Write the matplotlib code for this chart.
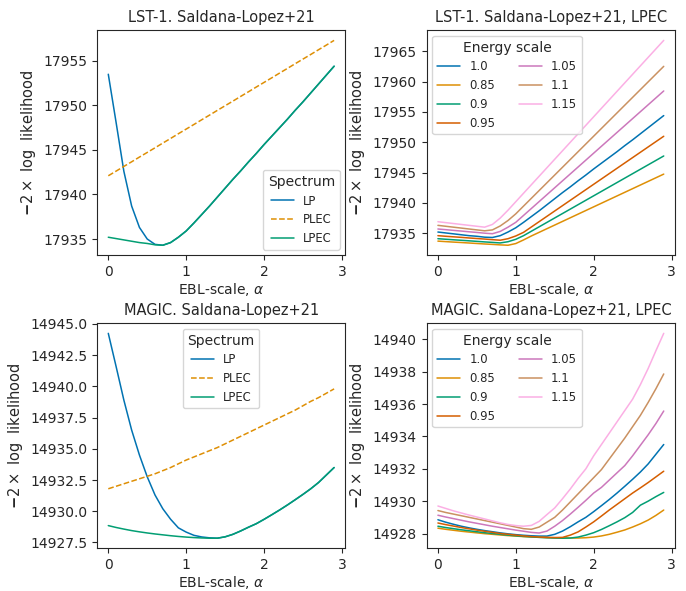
import matplotlib
matplotlib.use('Agg')
import matplotlib.pyplot as plt
import seaborn as sns
import numpy as np

sns.set_style('ticks')
sns.set_palette('colorblind')
plt.rcParams['font.family'] = ['DejaVu Sans']

# EBL scale grid
alpha = [round(0.1 * i, 1) for i in range(30)]

# LST-1, Saldana-Lopez+21, different spectral models
lst_lp = [17953.5, 17948.1, 17942.6, 17938.7, 17936.3, 17935.0, 17934.4, 17934.3, 17934.6, 17935.2,
          17935.9, 17936.8, 17937.75, 17938.7, 17939.7, 17940.7, 17941.7, 17942.65, 17943.65, 17944.6,
          17945.6, 17946.55, 17947.5, 17948.45, 17949.45, 17950.4, 17951.4, 17952.4, 17953.4, 17954.4]
lst_plec = [17942.1, 17942.62, 17943.15, 17943.67, 17944.2, 17944.72, 17945.24, 17945.77, 17946.29, 17946.82,
            17947.34, 17947.86, 17948.39, 17948.91, 17949.44, 17949.96, 17950.48, 17951.01, 17951.53, 17952.06,
            17952.58, 17953.1, 17953.63, 17954.15, 17954.68, 17955.2, 17955.72, 17956.25, 17956.77, 17957.3]
lst_lpec = [17935.2, 17935.05, 17934.9, 17934.75, 17934.6, 17934.5, 17934.35, 17934.3, 17934.6, 17935.2,
            17935.9, 17936.8, 17937.75, 17938.7, 17939.7, 17940.7, 17941.7, 17942.65, 17943.65, 17944.6,
            17945.6, 17946.55, 17947.5, 17948.45, 17949.45, 17950.4, 17951.4, 17952.4, 17953.4, 17954.4]

# MAGIC, Saldana-Lopez+21, different spectral models
magic_lp = [14944.25, 14941.6, 14938.9, 14936.5, 14934.5, 14932.76, 14931.3, 14930.2, 14929.36, 14928.67,
            14928.33, 14928.07, 14927.94, 14927.87, 14927.84, 14927.95, 14928.15, 14928.42, 14928.72, 14929.0,
            14929.35, 14929.72, 14930.1, 14930.5, 14930.92, 14931.35, 14931.8, 14932.3, 14932.9, 14933.5]
magic_plec = [14931.8, 14932.0, 14932.2, 14932.4, 14932.6, 14932.8, 14933.0, 14933.25, 14933.5, 14933.8,
              14934.1, 14934.35, 14934.6, 14934.85, 14935.1, 14935.4, 14935.7, 14936.0, 14936.3, 14936.6,
              14936.9, 14937.2, 14937.5, 14937.8, 14938.1, 14938.45, 14938.8, 14939.1, 14939.45, 14939.8]
magic_lpec = [14928.85, 14928.7, 14928.57, 14928.45, 14928.35, 14928.26, 14928.18, 14928.11, 14928.04, 14927.98,
              14927.93, 14927.89, 14927.86, 14927.84, 14927.84, 14927.95, 14928.15, 14928.42, 14928.72, 14929.0,
              14929.35, 14929.72, 14930.1, 14930.5, 14930.92, 14931.35, 14931.8, 14932.3, 14932.9, 14933.5]

# energy scale factors (legend order)
escale = ['1.0', '0.85', '0.9', '0.95', '1.05', '1.1', '1.15']

# LST-1 LPEC for each energy scale
lst_es = {
    '1.0': lst_lpec,
    '0.85': [17933.7, 17933.62, 17933.54, 17933.47, 17933.39, 17933.31, 17933.23, 17933.16, 17933.08, 17933.02,
             17933.3, 17933.9, 17934.55, 17935.15, 17935.75, 17936.35, 17936.95, 17937.55, 17938.15, 17938.75,
             17939.35, 17939.95, 17940.55, 17941.15, 17941.75, 17942.35, 17942.95, 17943.55, 17944.15, 17944.75],
    '0.9': [17934.1, 17934.01, 17933.92, 17933.84, 17933.75, 17933.66, 17933.57, 17933.49, 17933.4, 17933.6,
            17934.0, 17934.6, 17935.33, 17936.06, 17936.79, 17937.52, 17938.25, 17938.98, 17939.71, 17940.44,
            17941.17, 17941.9, 17942.63, 17943.36, 17944.09, 17944.82, 17945.55, 17946.28, 17947.01, 17947.74],
    '0.95': [17934.6, 17934.5, 17934.41, 17934.32, 17934.22, 17934.13, 17934.04, 17933.94, 17933.85, 17934.1,
             17934.55, 17935.15, 17936.03, 17936.91, 17937.79, 17938.67, 17939.55, 17940.43, 17941.31, 17942.19,
             17943.07, 17943.95, 17944.83, 17945.71, 17946.59, 17947.47, 17948.35, 17949.23, 17950.11, 17950.99],
    '1.05': [17935.7, 17935.59, 17935.47, 17935.36, 17935.24, 17935.13, 17935.01, 17934.92, 17935.3, 17936.0,
             17936.8, 17937.94, 17939.08, 17940.22, 17941.36, 17942.5, 17943.64, 17944.78, 17945.92, 17947.06,
             17948.2, 17949.34, 17950.48, 17951.62, 17952.76, 17953.9, 17955.04, 17956.18, 17957.32, 17958.46],
    '1.1': [17936.3, 17936.15, 17936.0, 17935.85, 17935.7, 17935.55, 17935.4, 17935.55, 17936.2, 17937.1,
            17938.2, 17939.48, 17940.76, 17942.04, 17943.32, 17944.6, 17945.88, 17947.16, 17948.44, 17949.72,
            17951.0, 17952.28, 17953.56, 17954.84, 17956.12, 17957.4, 17958.68, 17959.96, 17961.24, 17962.52],
    '1.15': [17936.9, 17936.75, 17936.6, 17936.45, 17936.3, 17936.15, 17936.0, 17936.45, 17937.5, 17938.8,
             17940.2, 17941.6, 17943.0, 17944.4, 17945.8, 17947.2, 17948.6, 17950.0, 17951.4, 17952.8,
             17954.2, 17955.6, 17957.0, 17958.4, 17959.8, 17961.2, 17962.6, 17964.0, 17965.4, 17966.8],
}

# MAGIC LPEC for each energy scale
magic_es = {
    '1.0': magic_lpec,
    '0.85': [14928.33, 14928.26, 14928.2, 14928.14, 14928.09, 14928.04, 14927.99, 14927.95, 14927.91, 14927.87,
             14927.84, 14927.81, 14927.79, 14927.77, 14927.75, 14927.74, 14927.73, 14927.72, 14927.72, 14927.74,
             14927.78, 14927.85, 14927.95, 14928.08, 14928.22, 14928.4, 14928.6, 14928.83, 14929.12, 14929.45],
    '0.9': [14928.45, 14928.37, 14928.3, 14928.23, 14928.17, 14928.11, 14928.05, 14928.0, 14927.95, 14927.9,
            14927.86, 14927.82, 14927.79, 14927.76, 14927.74, 14927.72, 14927.71, 14927.72, 14927.78, 14927.9,
            14928.05, 14928.25, 14928.48, 14928.72, 14928.98, 14929.3, 14929.75, 14930.0, 14930.28, 14930.54],
    '0.95': [14928.65, 14928.55, 14928.46, 14928.37, 14928.29, 14928.21, 14928.14, 14928.07, 14928.0, 14927.95,
             14927.9, 14927.85, 14927.81, 14927.78, 14927.76, 14927.75, 14927.76, 14927.9, 14928.1, 14928.4,
             14928.72, 14929.08, 14929.45, 14929.8, 14930.15, 14930.5, 14930.82, 14931.15, 14931.5, 14931.85],
    '1.05': [14929.13, 14929.02, 14928.92, 14928.82, 14928.72, 14928.63, 14928.54, 14928.45, 14928.37, 14928.29,
             14928.21, 14928.14, 14928.07, 14928.03, 14928.15, 14928.45, 14928.8, 14929.2, 14929.62, 14930.05,
             14930.5, 14930.85, 14931.3, 14931.75, 14932.2, 14932.8, 14933.45, 14934.1, 14934.8, 14935.57],
    '1.1': [14929.42, 14929.3, 14929.2, 14929.1, 14929.0, 14928.9, 14928.8, 14928.7, 14928.6, 14928.5,
            14928.4, 14928.3, 14928.26, 14928.4, 14928.7, 14929.0, 14929.45, 14929.95, 14930.45, 14930.95,
            14931.45, 14931.95, 14932.6, 14933.25, 14933.9, 14934.6, 14935.3, 14936.1, 14936.95, 14937.86],
    '1.15': [14929.7, 14929.55, 14929.4, 14929.27, 14929.14, 14929.02, 14928.9, 14928.78, 14928.66, 14928.56,
             14928.49, 14928.45, 14928.5, 14928.75, 14929.17, 14929.58, 14930.15, 14930.75, 14931.4, 14932.0,
             14932.8, 14933.5, 14934.2, 14934.9, 14935.6, 14936.3, 14937.2, 14938.2, 14939.3, 14940.37],
}

xlab = r'EBL-scale, $\alpha$'
ylab = r'$\mathbf{-}2\times$ log  likelihood'
lw = 1.1

fig, axs = plt.subplots(2, 2, figsize=(6.86, 5.91), dpi=100)
fig.subplots_adjust(left=0.1414, right=0.984, bottom=0.072, top=0.949, wspace=0.327, hspace=0.30)

#spectral model comparison
for ax, lp, plec, lpec, title, loc in [
        (axs[0, 0], lst_lp, lst_plec, lst_lpec, 'LST-1. Saldana-Lopez+21', 'lower right'),
        (axs[1, 0], magic_lp, magic_plec, magic_lpec, 'MAGIC. Saldana-Lopez+21', 'upper center')]:
    ax.plot(alpha, lp, color='C0', lw=lw, label='LP')
    ax.plot(alpha, plec, color='C1', lw=lw, ls='--', label='PLEC')
    ax.plot(alpha, lpec, color='C2', lw=lw, label='LPEC')
    ax.set_title(title, fontsize=10.5)
    ax.set_xlabel(xlab, labelpad=1.5)
    ax.set_ylabel(ylab, fontsize=10.5)
    ax.legend(title='Spectrum', loc=loc, fontsize='small', title_fontsize=10)

#energy scale comparison
for ax, es, title in [
        (axs[0, 1], lst_es, 'LST-1. Saldana-Lopez+21, LPEC'),
        (axs[1, 1], magic_es, 'MAGIC. Saldana-Lopez+21, LPEC')]:
    for i, e in enumerate(escale):
        ax.plot(alpha, es[e], color='C%d' % i, lw=lw, label=e)
    ax.set_title(title, fontsize=10.5)
    ax.set_xlabel(xlab, labelpad=1.5)
    ax.set_ylabel(ylab, fontsize=10.5)
    ax.legend(title='Energy scale', loc='upper left', ncol=2, fontsize='small', title_fontsize=10)

for ax in axs.flat:
    ax.set_xticks([0, 1, 2, 3])

fig.savefig('out.png', dpi=100)
